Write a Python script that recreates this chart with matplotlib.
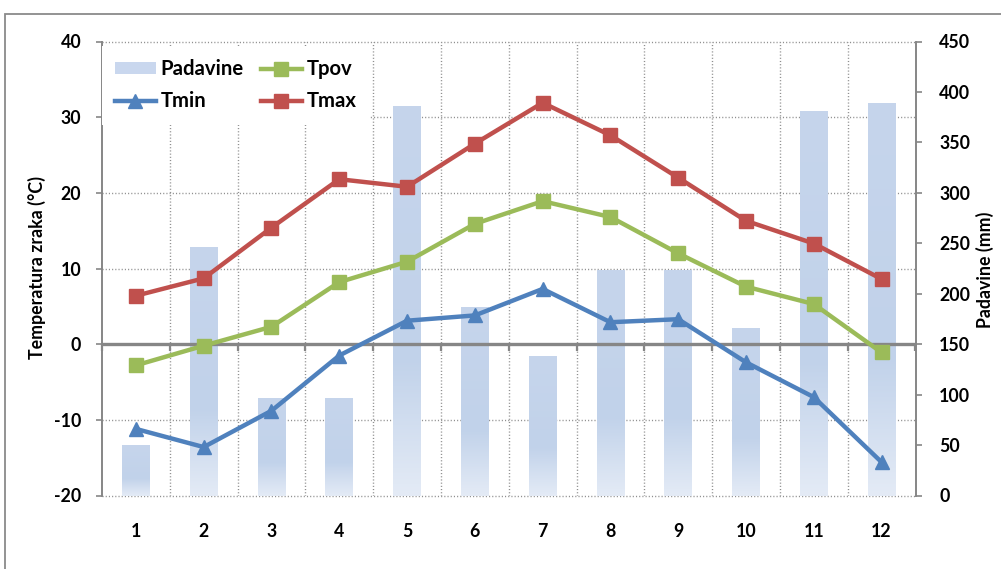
import numpy as np
import matplotlib
matplotlib.use("Agg")
import matplotlib.pyplot as plt
import matplotlib.transforms as mtransforms
from matplotlib.colors import LinearSegmentedColormap
from matplotlib.patches import Rectangle, Patch
from matplotlib.lines import Line2D

# ---- data -------------------------------------------------------------
months = [1, 2, 3, 4, 5, 6, 7, 8, 9, 10, 11, 12]
padavine = [50, 246, 97, 97, 386, 187, 138, 224, 224, 166, 381, 389]   # mm
tmin = [-11.2, -13.6, -8.8, -1.5, 3.1, 3.8, 7.3, 2.9, 3.3, -2.4, -7.0, -15.6]
tpov = [-2.8, -0.2, 2.3, 8.2, 10.9, 15.9, 18.9, 16.8, 12.0, 7.6, 5.3, -1.1]
tmax = [6.4, 8.7, 15.4, 21.8, 20.8, 26.5, 31.9, 27.6, 22.0, 16.3, 13.3, 8.6]

temp_ticks = [-20, -10, 0, 10, 20, 30, 40]
rain_ticks = [0, 50, 100, 150, 200, 250, 300, 350, 400, 450]

# ---- style ------------------------------------------------------------
plt.rcParams['font.family'] = ['Lato', 'DejaVu Sans']
plt.rcParams['font.weight'] = 'bold'
FS = 12.8
LEG_FS = 14.6
AXIS_GRAY = '#868686'
GRID_GRAY = '#8f8f8f'
C_MIN, C_POV, C_MAX = '#4f81bd', '#9bbb59', '#c0504d'

W, H = 1001, 569
fig = plt.figure(figsize=(W / 100, H / 100), dpi=100)
fig.patch.set_facecolor('white')

L, R, T, B = 102, 915.5, 41.5, 495.5
ax = fig.add_axes([L / W, 1 - B / H, (R - L) / W, (B - T) / H])
ax2 = ax.twinx()
ax.set_zorder(ax2.get_zorder() + 1)
ax.patch.set_visible(False)

ax.set_xlim(0.5, 12.5)
ax.set_ylim(-20, 40)
ax2.set_ylim(0, 450)

# ---- grid (behind the bars) ------------------------------------------
dots = (0, (0.8, 1.5))
htrans = mtransforms.blended_transform_factory(ax2.transAxes, ax.transData)
for t in temp_ticks:
    ax2.plot([0, 1], [t, t], transform=htrans, ls=dots, color=GRID_GRAY,
             lw=1.0, zorder=0, clip_on=False)
for b in np.arange(1.5, 12.5, 1.0):
    ax2.axvline(b, ls=dots, color=GRID_GRAY, lw=1.0, zorder=0)

# ---- precipitation bars with vertical gradient -----------------------
grad_cmap = LinearSegmentedColormap.from_list(
    'bar_grad', [(0.0, '#e4ebf6'), (0.35, '#c1d2ea'), (1.0, '#c6d5ec')])
grad = np.linspace(1, 0, 256).reshape(-1, 1)
bars = ax2.bar(months, padavine, width=0.41, color='none', edgecolor='none',
               zorder=1)
for rect in bars:
    x0, w, h = rect.get_x(), rect.get_width(), rect.get_height()
    im = ax2.imshow(grad, cmap=grad_cmap, vmin=0, vmax=1, aspect='auto',
                    extent=(x0, x0 + w, 0, h), zorder=1, interpolation='bicubic')
    im.set_clip_path(rect)
ax2.set_xlim(0.5, 12.5)
ax2.set_ylim(0, 450)

# ---- zero line with category tick marks ------------------------------
ax.axhline(0, color=AXIS_GRAY, lw=2.4, zorder=2)
bounds = np.arange(0.5, 13.0, 1.0)
ax.plot(bounds, np.zeros_like(bounds), ls='none', marker=3, ms=5, mew=1.6,
        color=AXIS_GRAY, zorder=2, clip_on=False)

# ---- temperature series ----------------------------------------------
ax.plot(months, tmin, color=C_MIN, lw=3.2, marker='^', ms=10.5, zorder=4)
ax.plot(months, tpov, color=C_POV, lw=3.2, marker='s', ms=9.5, zorder=4)
ax.plot(months, tmax, color=C_MAX, lw=3.2, marker='s', ms=9.5, zorder=4)

# ---- axes, ticks, spines ---------------------------------------------
for side in ('top', 'bottom', 'right'):
    ax.spines[side].set_visible(False)
for side in ('top', 'bottom', 'left'):
    ax2.spines[side].set_visible(False)
ax.spines['left'].set_color(AXIS_GRAY)
ax.spines['left'].set_linewidth(1.4)
ax2.spines['right'].set_color(AXIS_GRAY)
ax2.spines['right'].set_linewidth(1.4)

ax.set_yticks(temp_ticks)
ax.set_yticklabels([str(t) for t in temp_ticks])
ax.tick_params(axis='y', direction='out', length=4, width=1.2,
               color=AXIS_GRAY, labelsize=FS, pad=11)
ax2.set_yticks(rain_ticks)
ax2.set_yticklabels([str(r) for r in rain_ticks])
ax2.tick_params(axis='y', direction='out', length=4, width=1.2,
                color=AXIS_GRAY, labelsize=FS, pad=13)
ax.set_xticks(months)
ax.set_xticklabels([str(m) for m in months])
ax.tick_params(axis='x', length=0, labelsize=FS, pad=20)
for lab in ax.get_xticklabels() + ax.get_yticklabels() + ax2.get_yticklabels():
    lab.set_fontweight('bold')

fig.text(37 / W, 1 - 268 / H, 'Temperatura zraka (°C)', rotation=90,
         ha='center', va='center', fontsize=FS, fontweight='bold')
fig.text(985 / W, 1 - 270 / H, 'Padavine (mm)', rotation=90,
         ha='center', va='center', fontsize=FS, fontweight='bold')

# ---- legend ------------------------------------------------------------
handles = [
    Patch(facecolor='#c9d7ee', edgecolor='none'),
    Line2D([], [], color=C_MIN, lw=3.2, marker='^', ms=10.5),
    Line2D([], [], color=C_POV, lw=3.2, marker='s', ms=9.5),
    Line2D([], [], color=C_MAX, lw=3.2, marker='s', ms=9.5),
]
labels = ['Padavine', 'Tmin', 'Tpov', 'Tmax']
leg = ax.legend(handles, labels, ncol=2, loc='upper left',
                bbox_to_anchor=(0.0, 0.99), frameon=True, fancybox=False,
                facecolor='white', edgecolor='none', framealpha=1,
                prop={'size': LEG_FS, 'weight': 'bold'}, handlelength=2.0,
                handleheight=0.5, handletextpad=0.25, columnspacing=0.85,
                labelspacing=0.6, borderpad=0.65, borderaxespad=0.0)
leg.set_zorder(5)

# ---- chart frame -------------------------------------------------------
fig.add_artist(Rectangle((5 / W, -0.1), 1.2, 1.1 - 14 / H,
                         transform=fig.transFigure, fill=False,
                         edgecolor='#8a8a8a', lw=1.3))

fig.savefig('out.png', dpi=100)
